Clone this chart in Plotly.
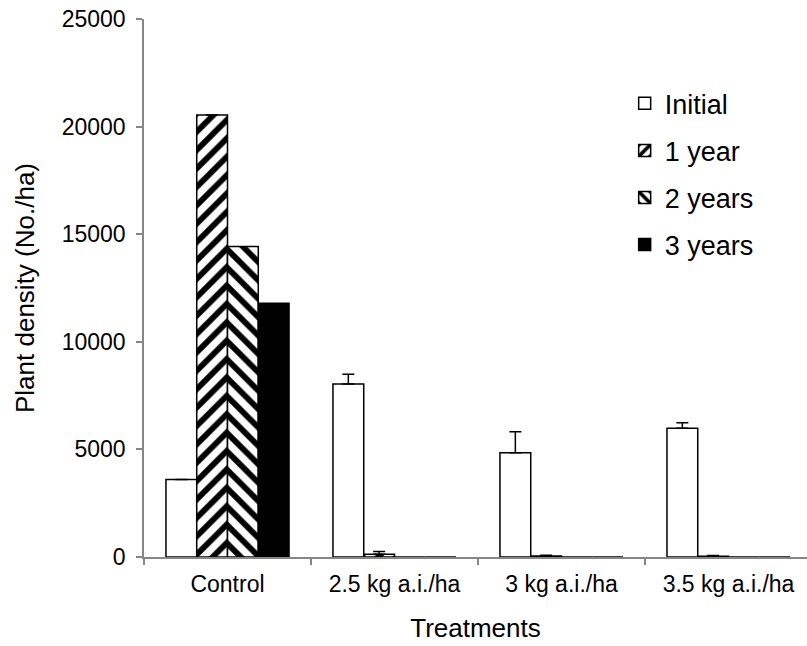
import plotly.graph_objects as go

# Treatments on the x axis
categories = ["Control", "2.5 kg a.i./ha", "3 kg a.i./ha", "3.5 kg a.i./ha"]

# Plant density (No./ha) per survey, with upper error values
initial = [3600, 8040, 4850, 5980]
initial_err = [0, 450, 975, 260]
year1 = [20540, 130, 50, 40]
year1_err = [0, 120, 30, 30]
year2 = [14430, 0, 0, 0]
year3 = [11790, 0, 0, 0]

FONT = "Liberation Sans, Arial, sans-serif"
OUTLINE = dict(color="black", width=1.5)


def err(vals):
    return dict(type="data", array=vals, arrayminus=[0] * len(vals), symmetric=False,
                color="black", thickness=1.5, width=6)


def stripes(shape):
    return dict(shape=shape, fgcolor="black", bgcolor="white", fgopacity=1,
                size=13, solidity=0.45)


fig = go.Figure()
fig.add_trace(go.Bar(name="Initial", legendgroup="a", x=categories, y=initial,
                     error_y=err(initial_err),
                     marker=dict(color="white", line=OUTLINE)))
fig.add_trace(go.Bar(name="1 year", legendgroup="b", x=categories, y=year1,
                     error_y=err(year1_err),
                     marker=dict(color="white", line=OUTLINE, pattern=stripes("/"))))
fig.add_trace(go.Bar(name="2 years", legendgroup="c", x=categories, y=year2,
                     marker=dict(color="white", line=OUTLINE, pattern=stripes("\\"))))
fig.add_trace(go.Bar(name="3 years", legendgroup="d", x=categories, y=year3,
                     marker=dict(color="black", line=OUTLINE)))

fig.update_layout(
    width=807, height=646,
    margin=dict(l=144, r=0, t=19, b=89),
    paper_bgcolor="white", plot_bgcolor="white",
    barmode="group", bargap=0.263, bargroupgap=0,
    font=dict(family=FONT, size=23, color="black"),
    showlegend=True,
    legend=dict(x=0.725, y=0.888, xanchor="left", yanchor="top",
                font=dict(family=FONT, size=27, color="black"),
                bgcolor="rgba(0,0,0,0)", tracegroupgap=9, traceorder="grouped"),
)
fig.update_xaxes(
    type="category", range=[-0.5, 3.47],
    showline=True, linecolor="#868686", linewidth=1.5,
    ticks="outside", tickson="boundaries", ticklen=6, tickcolor="#868686", tickwidth=1.5,
    showgrid=False, tickfont=dict(size=23), ticklabelstandoff=6,
    title=dict(text="Treatments", font=dict(size=26), standoff=22),
)
fig.update_yaxes(
    range=[0, 25000], dtick=5000, tickformat="d",
    showline=True, linecolor="#868686", linewidth=1.5,
    ticks="outside", ticklen=6, tickcolor="#868686", tickwidth=1.5,
    showgrid=False, zeroline=False, tickfont=dict(size=23), ticklabelstandoff=6,
    title=dict(text="Plant density (No./ha)", font=dict(size=26), standoff=20),
)

fig.write_html("out.html")
